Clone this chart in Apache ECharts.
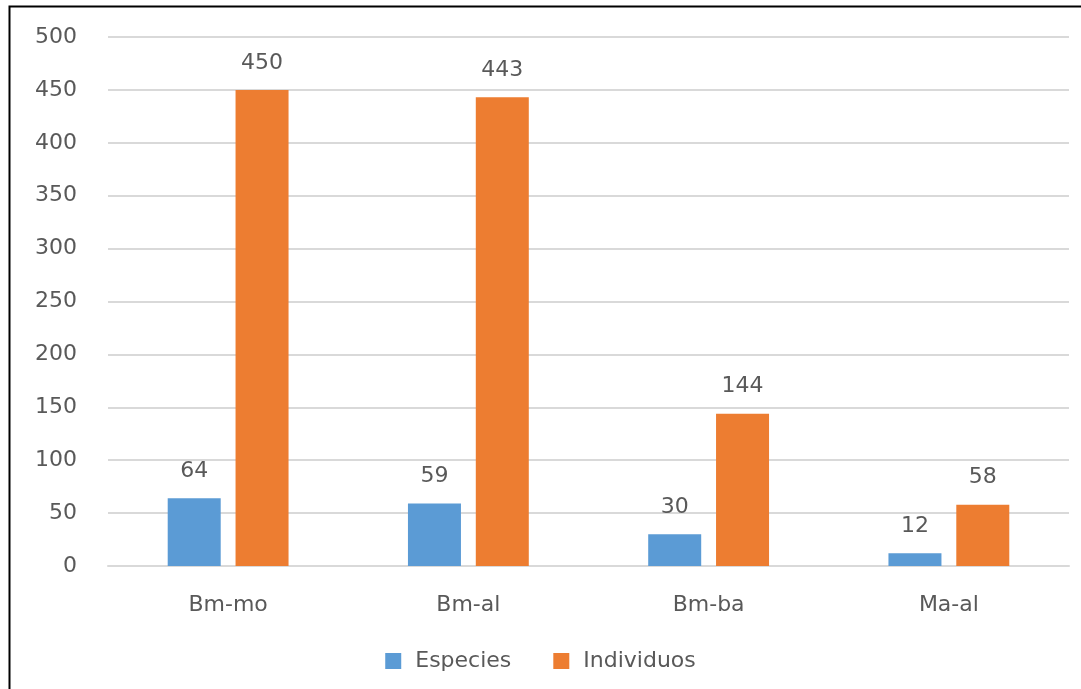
<!DOCTYPE html>
<html><head><meta charset="utf-8">
<script src="https://cdn.jsdelivr.net/npm/echarts@6/dist/echarts.min.js"></script>
<style>html,body{margin:0;padding:0;background:#fff;}#c{width:1081px;height:689px;}</style>
</head><body><div id="c"></div>
<script>
const categories = ['Bm-mo', 'Bm-al', 'Bm-ba', 'Ma-al'];
const especies = [64, 59, 30, 12];
const individuos = [450, 443, 144, 58];
const seriesNames = ['Especies', 'Individuos'];

const FONT = 'DejaVu Sans';
const TXT = '#595959';
const FS = 22;
const chart = echarts.init(document.getElementById('c'), null, {renderer: 'canvas'});
const labelCfg = {show: true, position: 'top', distance: 16, color: TXT, fontFamily: FONT, fontSize: FS};
chart.setOption({
  animation: false,
  backgroundColor: '#fff',
  graphic: [{type: 'polyline', shape: {points: [[9.5, 700], [9.5, 6.5], [1100, 6.5]]}, style: {stroke: '#000', lineWidth: 2, fill: null}, z: 100}],
  grid: {left: 108, right: 12, top: 37, bottom: 123},
  legend: {
    bottom: 12, left: 'center', itemWidth: 16, itemHeight: 16, itemGap: 42,
    icon: 'rect',
    textStyle: {color: TXT, fontFamily: FONT, fontSize: FS, padding: [0, 0, 0, 9]},
    data: seriesNames
  },
  xAxis: {
    type: 'category', data: categories,
    axisLine: {show: true, lineStyle: {color: '#D9D9D9', width: 2}},
    axisTick: {show: false},
    axisLabel: {color: TXT, fontFamily: FONT, fontSize: FS, margin: 28}
  },
  yAxis: {
    type: 'value', min: 0, max: 500, interval: 50,
    axisLine: {show: false}, axisTick: {show: false},
    axisLabel: {color: TXT, fontFamily: FONT, fontSize: FS, margin: 31},
    splitLine: {lineStyle: {color: '#D9D9D9', width: 2}}
  },
  series: [
    {name: seriesNames[0], type: 'bar', data: especies, barWidth: 53, barGap: '28%', itemStyle: {color: '#5B9BD5'}, label: labelCfg},
    {name: seriesNames[1], type: 'bar', data: individuos, barWidth: 53, itemStyle: {color: '#ED7D31'}, label: labelCfg}
  ]
});
</script></body></html>
